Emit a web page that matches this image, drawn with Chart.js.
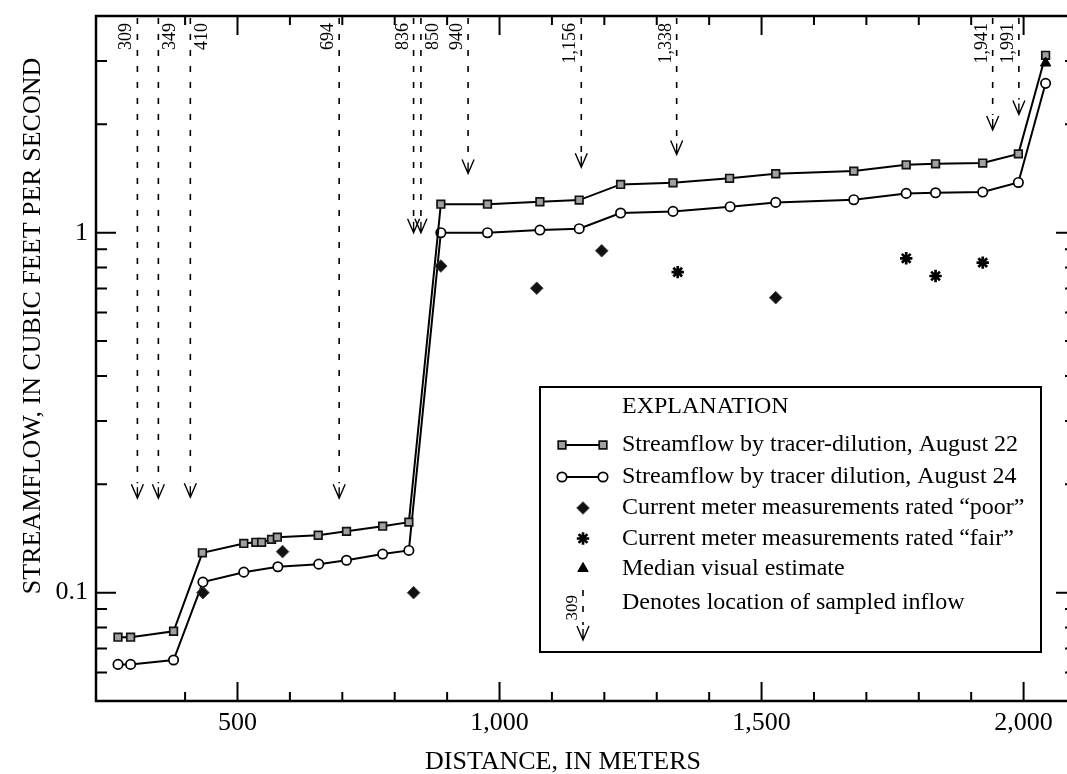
<!DOCTYPE html>
<html>
<head>
<meta charset="utf-8">
<title>Streamflow by distance</title>
<script src="https://cdn.jsdelivr.net/npm/chart.js@4.4.0/dist/chart.umd.min.js"></script>
<style>
	html, body { margin: 0; padding: 0; background: #fff; overflow: hidden; }
	canvas { display: block; }
</style>
</head>
<body>
<canvas id="chartFlow" width="1100" height="774"></canvas>
<script>
'use strict'

// distance along the stream, in meters / streamflow, in cubic feet per second
const distAug22 = [272, 296, 378, 433, 512, 535, 546, 565, 576, 654, 708, 777, 827, 888, 977, 1077, 1152, 1231, 1331, 1439, 1527, 1676, 1776, 1832, 1922, 1990, 2042];
const flowAug22 = [0.0752, 0.0752, 0.0781, 0.129, 0.137, 0.138, 0.138, 0.1406, 0.1426, 0.1444, 0.148, 0.153, 0.157, 1.20, 1.20, 1.219, 1.232, 1.362, 1.376, 1.416, 1.458, 1.483, 1.544, 1.554, 1.561, 1.656, 3.11];

const distAug24 = [272, 296, 378, 434, 512, 577, 655, 708, 777, 827, 888, 977, 1077, 1152, 1231, 1331, 1440, 1527, 1676, 1776, 1832, 1922, 1990, 2042];
const flowAug24 = [0.0632, 0.0632, 0.065, 0.107, 0.114, 0.118, 0.120, 0.123, 0.128, 0.131, 1.0, 1.0, 1.017, 1.026, 1.134, 1.146, 1.181, 1.214, 1.235, 1.286, 1.291, 1.297, 1.379, 2.60];

const poorDist = [434, 586, 836, 888, 1071, 1195, 1527];
const poorFlow = [0.1, 0.130, 0.1, 0.808, 0.701, 0.891, 0.660];

const fairDist = [1340, 1776, 1832, 1922];
const fairFlow = [0.777, 0.849, 0.758, 0.826];

const visualDist = [2042];
const visualFlow = [2.96];

// sampled inflows: location, label, flow level where the arrow stops, label side
const inflowDist = [309, 349, 410, 694, 836, 850, 940, 1156, 1338, 1941, 1991];
const inflowLabels = ['309', '349', '410', '694', '836', '850', '940', '1,156', '1,338', '1,941', '1,991'];
const inflowTip = [0.183, 0.183, 0.184, 0.183, 1.0, 1.0, 1.46, 1.52, 1.65, 1.93, 2.13];
const inflowSide = ['L', 'R', 'R', 'L', 'L', 'R', 'L', 'L', 'L', 'L', 'L'];

const xTitle = 'DISTANCE, IN METERS';
const yTitle = 'STREAMFLOW, IN CUBIC FEET PER SECOND';

const serif = "'Liberation Serif', 'Times New Roman', serif";

const toPoints = (xs, ys) => xs.map((x, i) => ({x: x, y: ys[i]}));

const isDecade = v => {
	const l = Math.log10(v);
	return Math.abs(l - Math.round(l)) < 1e-9;
};

function drawInflow(ctx, px, y0, tip, text, side, small) {
	ctx.save();
	ctx.strokeStyle = '#000';
	ctx.lineWidth = 1.6;
	ctx.setLineDash([6, 10]);
	ctx.beginPath();
	ctx.moveTo(px, y0 + 2);
	ctx.lineTo(px, tip - 15);
	ctx.stroke();
	ctx.setLineDash([]);
	ctx.lineWidth = 1.4;
	ctx.beginPath();
	ctx.moveTo(px - 6, tip - 14);
	ctx.lineTo(px, tip);
	ctx.lineTo(px + 6, tip - 14);
	ctx.moveTo(px, tip);
	ctx.lineTo(px, tip - 11);
	ctx.stroke();

	ctx.font = (small ? 17 : 18) + 'px ' + serif;
	ctx.fillStyle = '#000';
	ctx.translate(side === 'L' ? px - 6 : px + 17, y0 + 7);
	ctx.rotate(-Math.PI / 2);
	ctx.textAlign = 'right';
	ctx.textBaseline = 'alphabetic';
	ctx.fillText(text, 0, 0);
	ctx.restore();
}

// inward ticks on all four sides, frame, axis titles
const frameTicks = {
	id: 'frameTicks',
	afterDatasetsDraw(chart) {
		const {ctx, chartArea: {left, right, top, bottom}, scales: {x, y}} = chart;
		ctx.save();
		ctx.strokeStyle = '#000';
		ctx.lineWidth = 2;
		ctx.beginPath();
		x.ticks.forEach(t => {
			const v = t.value;
			if (v % 100 !== 0 || v <= x.min || v >= x.max) return;
			const px = x.getPixelForValue(v);
			const len = v % 500 === 0 ? 19 : 9;
			ctx.moveTo(px, bottom);
			ctx.lineTo(px, bottom - len);
			ctx.moveTo(px, top);
			ctx.lineTo(px, top + len);
		});
		y.ticks.forEach(t => {
			const v = t.value;
			if (v <= y.min * 1.0001 || v >= y.max * 0.9999) return;
			const e = Math.floor(Math.log10(v) + 1e-9);
			const m = v / Math.pow(10, e);
			if (Math.abs(m - Math.round(m)) > 1e-6) return;
			const py = y.getPixelForValue(v);
			const len = isDecade(v) ? 20 : 11;
			ctx.moveTo(left, py);
			ctx.lineTo(left + len, py);
			ctx.moveTo(right, py);
			ctx.lineTo(right - len, py);
		});
		ctx.stroke();
		ctx.lineWidth = 2.5;
		ctx.strokeRect(left, top, right - left, bottom - top);

		ctx.fillStyle = '#000';
		ctx.font = '26px ' + serif;
		ctx.textAlign = 'center';
		ctx.textBaseline = 'middle';
		ctx.fillText(xTitle, 563, 762);
		ctx.translate(33, 326);
		ctx.rotate(-Math.PI / 2);
		ctx.fillText(yTitle, 0, 0);
		ctx.restore();
	},
};

const inflowArrows = {
	id: 'inflowArrows',
	afterDatasetsDraw(chart) {
		const {ctx, chartArea: {top}, scales: {x, y}} = chart;
		inflowDist.forEach((d, i) => {
			drawInflow(ctx, x.getPixelForValue(d), top, y.getPixelForValue(inflowTip[i]), inflowLabels[i], inflowSide[i]);
		});
	},
};

// boxed legend ("EXPLANATION")
const explanation = {
	id: 'explanation',
	afterDraw(chart) {
		const {ctx} = chart;
		const sets = chart.data.datasets;
		const box = {l: 540, t: 387, r: 1041, b: 652};
		const rowY = [445, 477, 508, 538.5, 568.5, 603];
		const symX = 583;
		const textX = 622;

		ctx.save();
		ctx.fillStyle = '#fff';
		ctx.fillRect(box.l, box.t, box.r - box.l, box.b - box.t);
		ctx.strokeStyle = '#000';
		ctx.lineWidth = 2;
		ctx.strokeRect(box.l, box.t, box.r - box.l, box.b - box.t);

		ctx.fillStyle = '#000';
		ctx.font = '24px ' + serif;
		ctx.textAlign = 'left';
		ctx.textBaseline = 'middle';
		ctx.fillText('EXPLANATION', textX, 407);

		const point = (ds, px, py) => {
			ctx.fillStyle = ds.pointBackgroundColor || '#000';
			ctx.strokeStyle = ds.pointBorderColor || '#000';
			ctx.lineWidth = ds.pointBorderWidth;
			Chart.helpers.drawPoint(ctx, {pointStyle: ds.pointStyle, radius: ds.pointRadius, borderWidth: ds.pointBorderWidth, rotation: 0}, px, py);
		};

		sets.forEach((ds, i) => {
			const py = rowY[i];
			if (ds.showLine) {
				ctx.strokeStyle = ds.borderColor;
				ctx.lineWidth = ds.borderWidth;
				ctx.beginPath();
				ctx.moveTo(562, py);
				ctx.lineTo(603, py);
				ctx.stroke();
				point(ds, 562, py);
				point(ds, 603, py);
			} else {
				point(ds, symX, py);
			}
			ctx.fillStyle = '#000';
			ctx.font = '24px ' + serif;
			ctx.textAlign = 'left';
			ctx.textBaseline = 'middle';
			ctx.fillText(ds.label, textX, py);
		});

		drawInflow(ctx, symX, 588, 640, '309', 'L', true);
		ctx.fillStyle = '#000';
		ctx.font = '24px ' + serif;
		ctx.textAlign = 'left';
		ctx.textBaseline = 'middle';
		ctx.fillText('Denotes location of sampled inflow', textX, rowY[5]);
		ctx.restore();
	},
};

let chartFlow = new Chart(document.getElementById('chartFlow'), {
	type: 'scatter',
	data: {
		datasets: [
			{
				label: 'Streamflow by tracer-dilution, August 22',
				data: toPoints(distAug22, flowAug22),
				showLine: true,
				borderColor: '#000',
				borderWidth: 2,
				pointStyle: 'rect',
				pointRadius: 5.4,
				pointBackgroundColor: '#a0a0a0',
				pointBorderColor: '#111',
				pointBorderWidth: 1.7,
				order: 2,
			},
			{
				label: 'Streamflow by tracer dilution, August 24',
				data: toPoints(distAug24, flowAug24),
				showLine: true,
				borderColor: '#000',
				borderWidth: 2,
				pointStyle: 'circle',
				pointRadius: 4.7,
				pointBackgroundColor: '#fff',
				pointBorderColor: '#000',
				pointBorderWidth: 1.7,
				order: 2,
			},
			{
				label: 'Current meter measurements rated \u201Cpoor\u201D',
				data: toPoints(poorDist, poorFlow),
				pointStyle: 'rectRot',
				pointRadius: 6.3,
				pointBackgroundColor: '#111',
				pointBorderColor: '#444',
				pointBorderWidth: 1,
				order: 1,
			},
			{
				label: 'Current meter measurements rated \u201Cfair\u201D',
				data: toPoints(fairDist, fairFlow),
				pointStyle: 'star',
				pointRadius: 6.2,
				pointBackgroundColor: '#000',
				pointBorderColor: '#000',
				pointBorderWidth: 2.7,
				order: 1,
			},
			{
				label: 'Median visual estimate',
				data: toPoints(visualDist, visualFlow),
				pointStyle: 'triangle',
				pointRadius: 6,
				pointBackgroundColor: '#000',
				pointBorderColor: '#000',
				pointBorderWidth: 1,
				order: 0,
			},
		],
	},
	options: {
		responsive: false,
		animation: false,
		events: [],
		layout: {
			padding: {top: 16, right: 24, left: 0, bottom: 0},
		},
		plugins: {
			legend: {display: false},
			tooltip: {enabled: false},
		},
		scales: {
			x: {
				type: 'linear',
				min: 230,
				max: 2100,
				grid: {display: false, drawTicks: false},
				border: {display: false},
				ticks: {
					stepSize: 100,
					autoSkip: false,
					maxRotation: 0,
					padding: 7,
					color: '#000',
					font: {family: serif, size: 26},
					callback: v => v % 500 === 0 ? v.toLocaleString('en-US') : '',
				},
				afterFit: s => {
					s.height = 73;
					s.paddingLeft = 0;
					s.paddingRight = 0;
				},
			},
			y: {
				type: 'logarithmic',
				min: 0.05,
				max: 4,
				grid: {display: false, drawTicks: false},
				border: {display: false},
				ticks: {
					autoSkip: false,
					padding: 8,
					color: '#000',
					font: {family: serif, size: 26},
					callback: v => isDecade(v) ? String(v) : '',
				},
				afterFit: s => {
					s.width = 96;
					s.paddingTop = 0;
					s.paddingBottom = 0;
				},
			},
		},
	},
	plugins: [frameTicks, inflowArrows, explanation],
});
</script>
</body>
</html>
